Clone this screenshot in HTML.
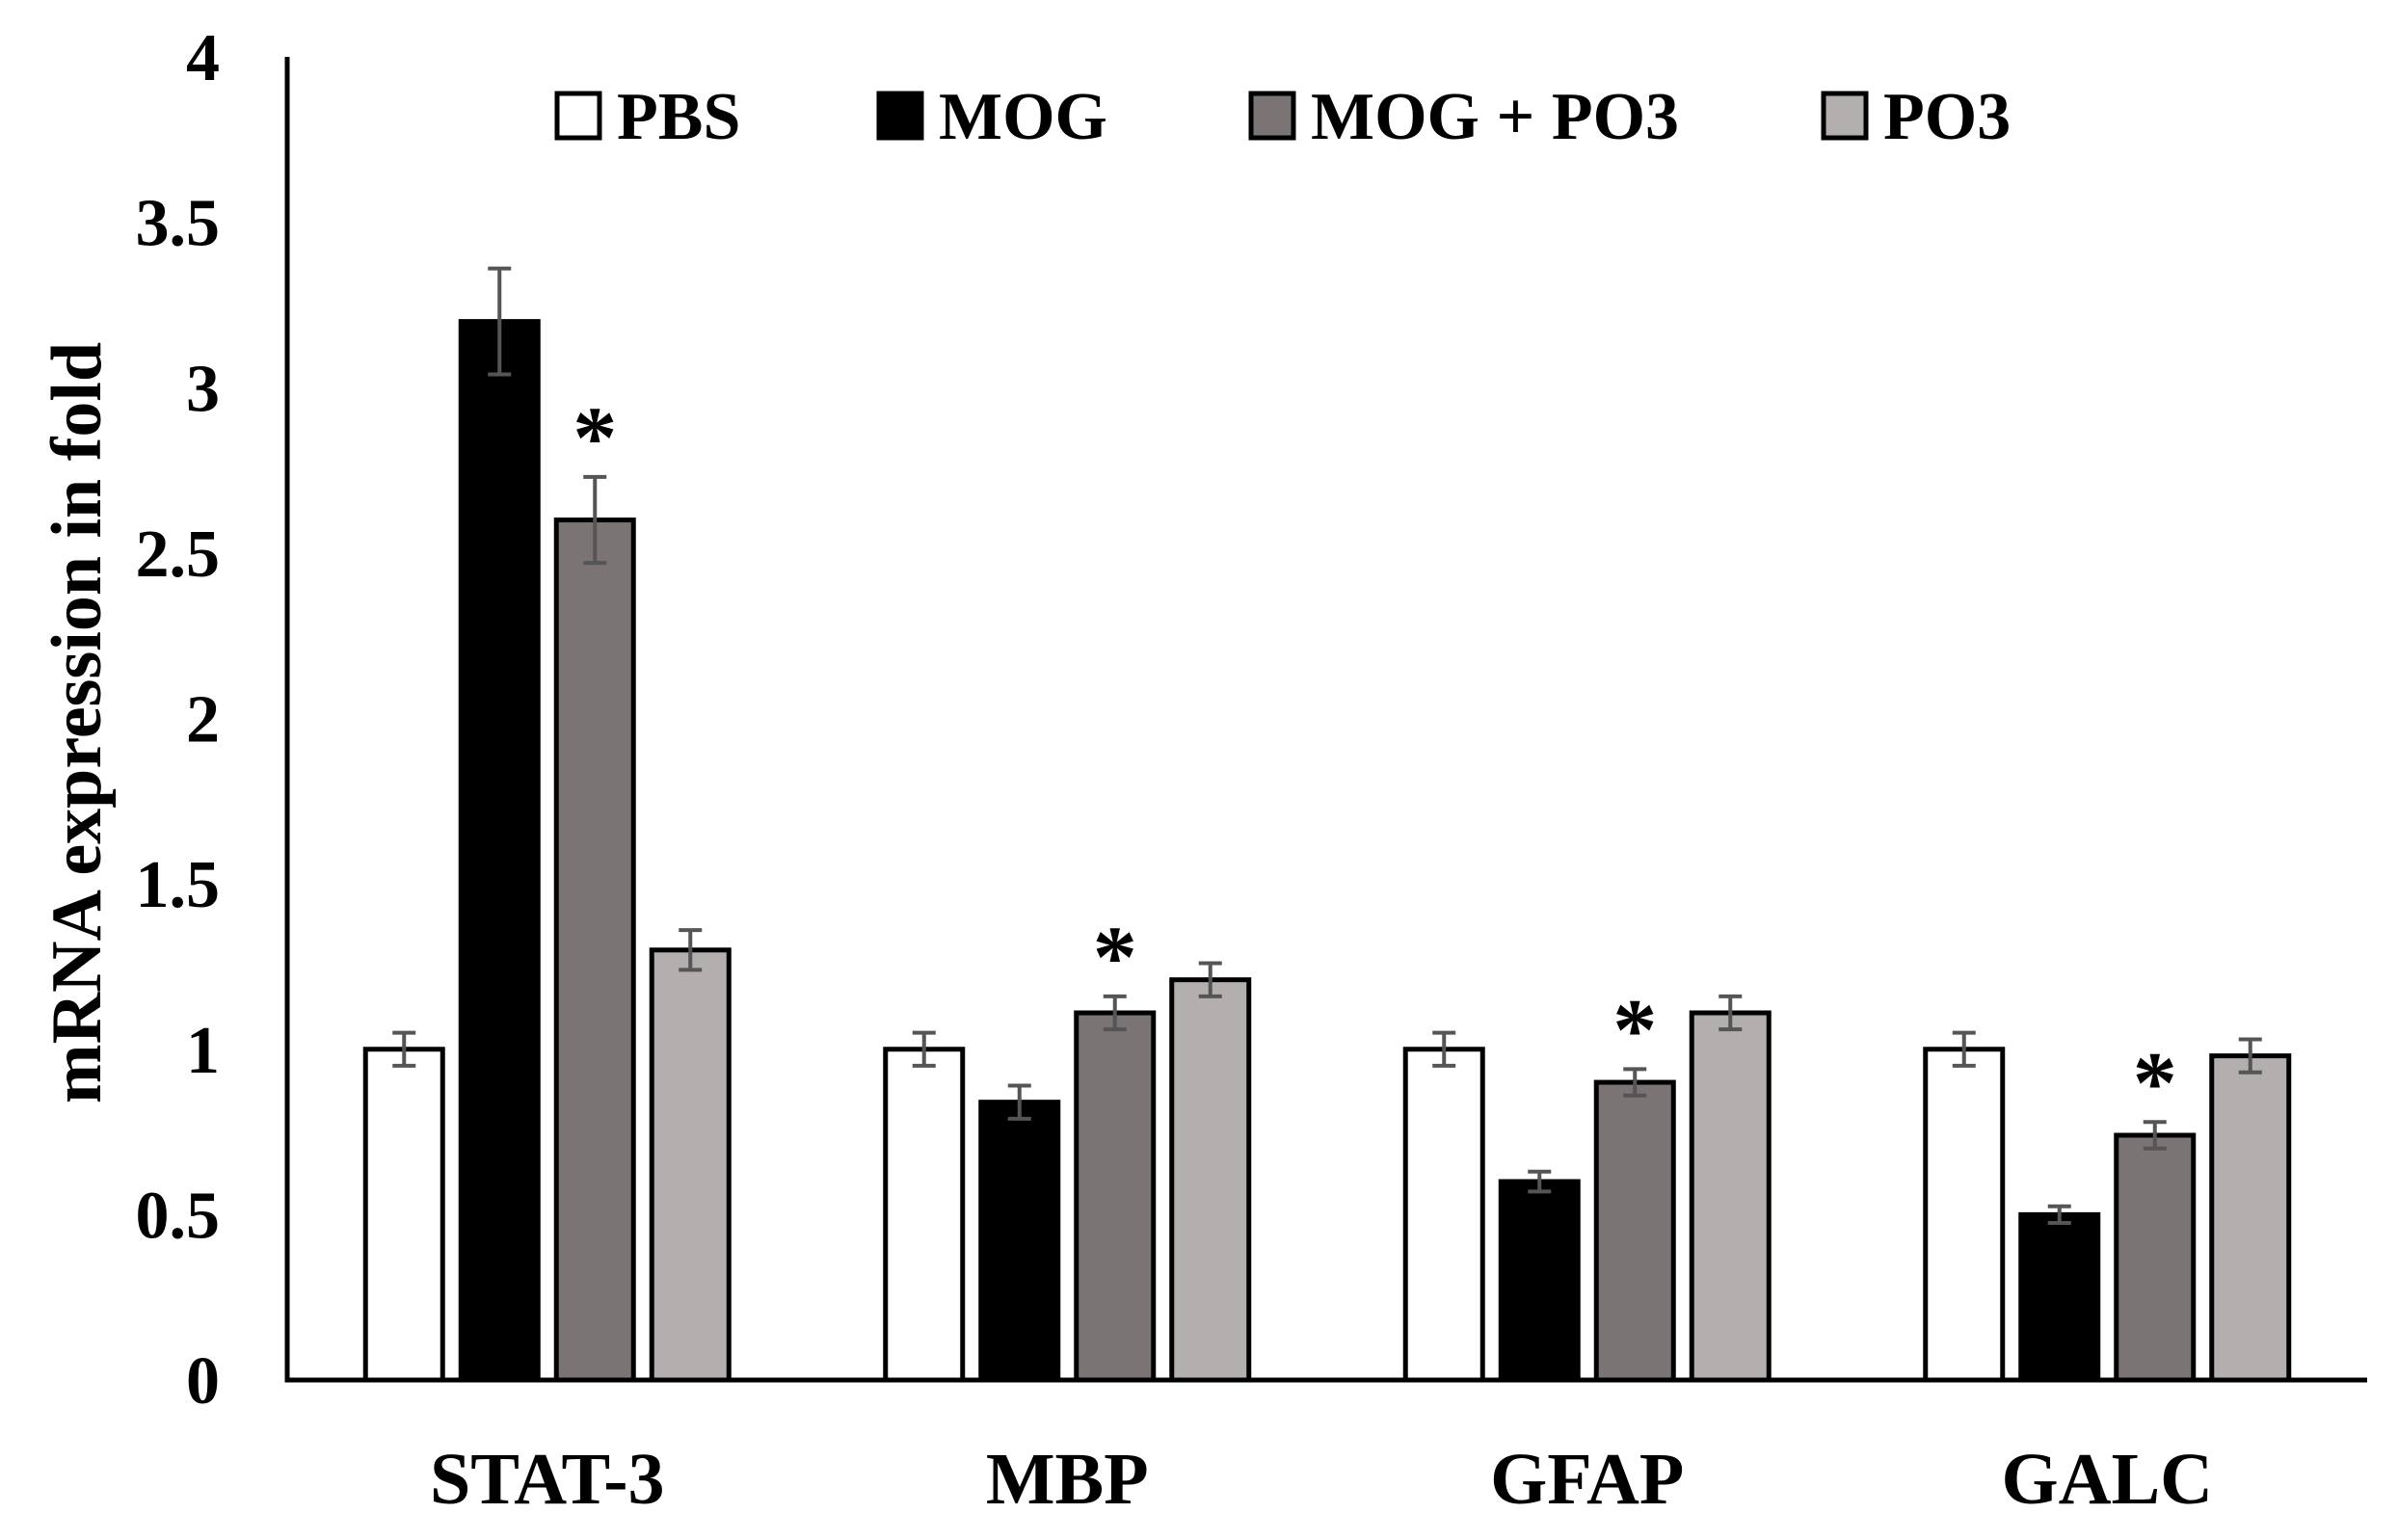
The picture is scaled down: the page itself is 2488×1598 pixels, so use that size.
<!DOCTYPE html>
<html><head><meta charset="utf-8"><style>
html,body{margin:0;padding:0;background:#fff;}
svg{display:block;font-family:"Liberation Serif",serif;font-weight:bold;}
</style></head><body>
<svg id="chart" width="2488" height="1598" viewBox="0 0 2488 1598" xmlns="http://www.w3.org/2000/svg">
<g id="plot"></g>
</svg>
<script>
const categories = ["STAT-3","MBP","GFAP","GALC"];
const seriesNames = ["PBS","MOG","MOG + PO3","PO3"];
const pbsValues = [1.0, 1.0, 1.0, 1.0];
const mogValues = [3.2, 0.84, 0.6, 0.5];
const mogPo3Values = [2.6, 1.11, 0.9, 0.74];
const po3Values = [1.3, 1.21, 1.11, 0.98];
const pbsErr = [0.05, 0.05, 0.05, 0.05];
const mogErr = [0.16, 0.05, 0.03, 0.025];
const mogPo3Err = [0.13, 0.05, 0.04, 0.04];
const po3Err = [0.06, 0.05, 0.05, 0.05];
const significant = [true, true, true, true];
const yTicks = [0, 0.5, 1, 1.5, 2, 2.5, 3, 3.5, 4];
const yTickLabels = ["0","0.5","1","1.5","2","2.5","3","3.5","4"];

const NS = "http://www.w3.org/2000/svg";
const g = document.getElementById('plot');
const X0 = 298, X1 = 2456, Y0 = 1432, Y4 = 59, YMAX = 4;
const y = v => Y0 - (Y0 - Y4) * v / YMAX;
const groupW = (X1 - X0) / categories.length;
const gx = i => X0 + groupW * (i + 0.5);
const barW = 80, stride = 99;
const fills = ["#ffffff", "#000000", "#7a7574", "#b3afae"];
const allVals = [pbsValues, mogValues, mogPo3Values, po3Values];
const allErr = [pbsErr, mogErr, mogPo3Err, po3Err];
function mk(tag, attrs) { const e = document.createElementNS(NS, tag); for (const k in attrs) e.setAttribute(k, attrs[k]); g.appendChild(e); return e; }

yTicks.forEach((t, i) => {
  const e = mk('text', {x: 228, y: y(t) + 24, 'text-anchor': 'end', 'font-size': 70, fill: '#000'});
  
  
  e.textContent = yTickLabels[i];
});
const yt = mk('text', {x: 0, y: 0, transform: 'translate(104,750) rotate(-90)', 'text-anchor': 'middle', 'font-size': 74, fill: '#000'});


yt.textContent = 'mRNA expression in fold';

categories.forEach((c, i) => {
  for (let s = 0; s < 4; s++) {
    const cx = gx(i) + (s - 1.5) * stride;
    const v = allVals[s][i], er = allErr[s][i];
    const r = mk('rect', {x: cx - barW / 2, y: y(v), width: barW, height: Y0 - y(v), fill: fills[s], stroke: '#000', 'stroke-width': 5});
    
    
    const eb = mk('path', {d: `M${cx} ${y(v + er)}V${y(v - er)}M${cx - 12} ${y(v + er)}H${cx + 12}M${cx - 12} ${y(v - er)}H${cx + 12}`, stroke: '#555', 'stroke-width': 4, fill: 'none'});
    
    
  }
  if (significant[i]) {
    const cx = gx(i) + 0.5 * stride;
    const st = mk('text', {x: cx, y: y(mogPo3Values[i] + mogPo3Err[i]) - 10, 'text-anchor': 'middle', 'font-size': 92, fill: '#000'});
    
    
    st.textContent = '*';
  }
  const cl = mk('text', {x: gx(i), y: 1560, 'text-anchor': 'middle', 'font-size': 76, fill: '#000'});
  
  
  cl.textContent = c;
});

const ax = mk('path', {d: `M${X0} ${Y4}V${Y0}H${X1}`, stroke: '#000', 'stroke-width': 5, fill: 'none'});



const legBoxX = [578, 912, 1298, 1892];
seriesNames.forEach((n, s) => {
  const b = mk('rect', {x: legBoxX[s], y: 97, width: 44, height: 46, fill: fills[s], stroke: '#000', 'stroke-width': 5});
  
  
  const t = mk('text', {x: legBoxX[s] + 62, y: 144, 'font-size': 70, fill: '#000'});
  
  
  t.textContent = n;
});
</script>
</body></html>
